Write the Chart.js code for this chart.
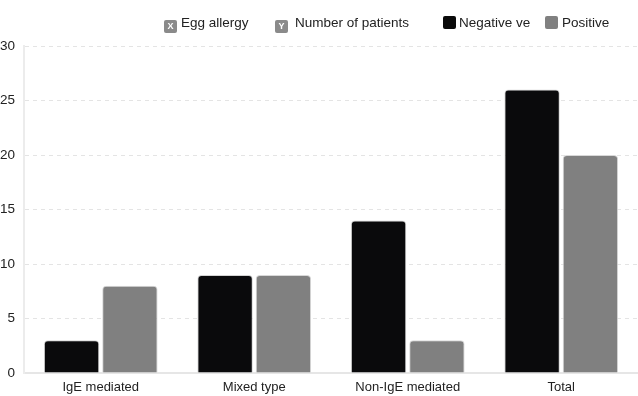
<!DOCTYPE html>
<html>
<head>
<meta charset="utf-8">
<script src="https://cdn.jsdelivr.net/npm/chart.js@4/dist/chart.umd.min.js"></script>
<style>
  html, body { margin: 0; padding: 0; background: #fff; }
  #wrap { position: relative; width: 638px; height: 396px; }
  #legend { position: absolute; top: 14px; left: 0; width: 638px; height: 20px;
            font: 13.5px "Liberation Sans", Arial, sans-serif; color: #222; }
  #legend span.item { position: absolute; top: 0; white-space: nowrap; line-height: 18px; }
  #legend .box { display: inline-block; width: 13px; height: 13px; border-radius: 2px;
                 vertical-align: -2px; color: #fff; font-size: 9px;
                 font-weight: bold; text-align: center; line-height: 13px; }
</style>
</head>
<body>
<div id="wrap">
  <canvas id="allergyChart" width="638" height="396"></canvas>
  <div id="legend"></div>
</div>
<script>
var categories = ['IgE mediated', 'Mixed type', 'Non-IgE mediated', 'Total'];
var negativeValues = [3, 9, 14, 26];
var positiveValues = [8, 9, 3, 20];
var yTicks = [0, 5, 10, 15, 20, 25, 30];
var legendItems = [
    { text: 'Egg allergy', mark: 'X', color: '#8a8a8a', x: 164, gap: 4 },
    { text: 'Number of patients', mark: 'Y', color: '#8a8a8a', x: 275, gap: 7 },
    { text: 'Negative ve', mark: '', color: '#0a0a0a', x: 443, gap: 3 },
    { text: 'Positive', mark: '', color: '#808080', x: 545, gap: 4 }
];

document.addEventListener('DOMContentLoaded', function () {
    var legend = document.getElementById('legend');
    legendItems.forEach(function (it) {
        var s = document.createElement('span');
        s.className = 'item';
        s.style.left = it.x + 'px';
        s.innerHTML = '<span class="box" style="margin-right:' + it.gap + 'px;background:' + it.color + '">' + it.mark + '</span>' + it.text;
        legend.appendChild(s);
    });

    var ctx = document.getElementById('allergyChart').getContext('2d');
    new Chart(ctx, {
        type: 'bar',
        data: {
            labels: categories,
            datasets: [{
                label: 'Negative ve',
                data: negativeValues,
                backgroundColor: '#0a0a0c',
                borderColor: '#d4d4d4',
                borderWidth: 1,
                borderRadius: { topLeft: 4, topRight: 4 },
                borderSkipped: 'bottom',
                categoryPercentage: 0.76,
                barPercentage: 0.95
            }, {
                label: 'Positive',
                data: positiveValues,
                backgroundColor: '#808080',
                borderColor: '#d8d8d8',
                borderWidth: 1,
                borderRadius: { topLeft: 4, topRight: 4 },
                borderSkipped: 'bottom',
                categoryPercentage: 0.76,
                barPercentage: 0.95
            }]
        },
        options: {
            responsive: false,
            animation: false,
            layout: { padding: { top: 46, right: 0, left: 0, bottom: 0 } },
            scales: {
                x: {
                    grid: { display: false, drawTicks: false },
                    border: { color: '#e6e6e6', width: 2 },
                    ticks: { color: '#222', font: { family: 'Liberation Sans', size: 13 }, padding: 7 },
                    afterFit: function (axis) { axis.height = 23; }
                },
                y: {
                    min: 0,
                    max: 30,
                    afterBuildTicks: function (axis) {
                        axis.ticks = yTicks.map(function (v) { return { value: v }; });
                    },
                    grid: { color: '#e4e4e4', drawTicks: false },
                    border: { color: '#ececec', width: 2, dash: [4, 4] },
                    ticks: { color: '#222', font: { family: 'Liberation Sans', size: 13.5 }, padding: 9 },
                    afterFit: function (axis) { axis.width = 24; }
                }
            },
            plugins: {
                legend: { display: false },
                tooltip: { enabled: false }
            }
        }
    });
});
</script>
</body>
</html>
